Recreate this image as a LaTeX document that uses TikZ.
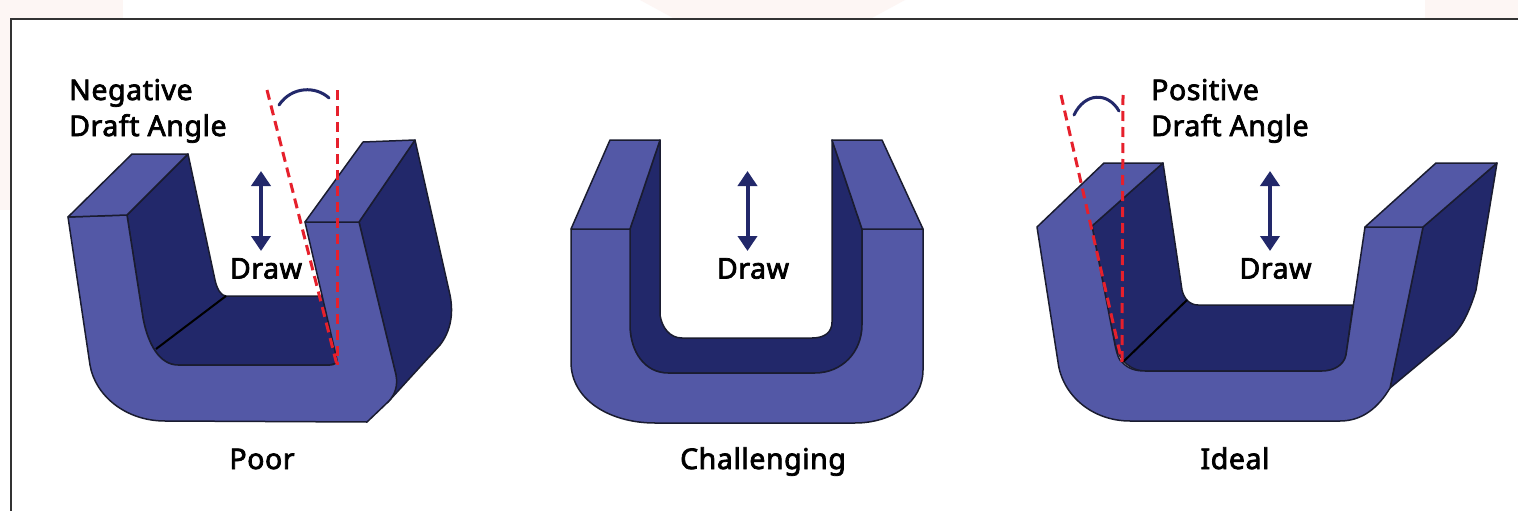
\documentclass[tikz,border=0pt]{standalone}
\usepackage{fontspec}
\setmainfont[FakeBold=2.6,LetterSpace=2]{Noto Sans}
\usepackage{tikz}
\usetikzlibrary{arrows.meta,positioning}
\definecolor{faceblue}{HTML}{5358A6}
\definecolor{darkblue}{HTML}{22286A}
\definecolor{draftred}{HTML}{E6202C}
\definecolor{edgeink}{HTML}{1A1C30}
\definecolor{paleback}{HTML}{FDF6F4}

\begin{document}
\begin{tikzpicture}[
  x=1pt, y=-1pt,
  font=\fontsize{28.5}{36}\selectfont,
  lab/.style={inner sep=0pt, align=left, text=black},
  face/.style={fill=faceblue, draw=edgeink, line width=1.5pt, line join=round},
  wall/.style={fill=darkblue, draw=edgeink, line width=1.5pt, line join=round},
  crease/.style={draw=black, line width=2pt},
  dashline/.style={draw=draftred, line width=3pt, dash pattern=on 10pt off 6pt},
  sweep/.style={draw=darkblue, line width=3pt, line cap=round},
  arr/.style={{Triangle[length=15pt,width=19pt]}-{Triangle[length=15pt,width=19pt]}, draw=darkblue, color=darkblue, line width=4pt}
]
\useasboundingbox (0,0) rectangle (1518,511);
\fill[white] (0,0) rectangle (1518,511);
% faint patches behind the frame
\fill[paleback] (0,0) rectangle (123,19);
\fill[paleback] (0,19) rectangle (10,210);
\fill[paleback] (640,0) -- (905,0) -- (870,19) -- (675,19) -- cycle;
\fill[paleback] (1425,0) rectangle (1518,19);
\draw[line width=2pt, draw=black!80] (10.5,511) -- (10.5,19) -- (1518,19);

% poor
\draw[wall] (127,215) -- (188,154) -- (215,280) .. controls (217,289) and (221,296) .. (226,296)
  -- (325,296) -- (340,362) -- (330,365) -- (178,365) .. controls (160,365) and (148,345) .. (143,318) -- cycle;
\draw[crease] (226,296) -- (156,349);
\draw[wall] (359,222) -- (415,140) -- (450,295) .. controls (454,315) and (450,332) .. (440,345) -- (388,402) -- (396,375) -- cycle;
\draw[face] (68,217) -- (127,215) -- (143,318) .. controls (148,345) and (160,365) .. (178,365) -- (330,365)
  .. controls (334,365) and (337,363) .. (337,360) -- (305,222) -- (359,222) -- (396,375)
  .. controls (398,386) and (395,395) .. (388,402) -- (367,422) -- (165,421) .. controls (125,421) and (95,395) .. (90,365) -- cycle;
\draw[face] (68,217) -- (132,154) -- (188,154) -- (127,215) -- cycle;
\draw[face] (305,222) -- (363,142) -- (415,140) -- (359,222) -- cycle;

% challenging
\draw[wall] (630,229) -- (660,140) -- (660,315) .. controls (662,328) and (670,338) .. (682,338)
  -- (812,338) .. controls (825,338) and (832,332) .. (832,322) -- (832,140) -- (862,229) -- (862,325)
  .. controls (862,352) and (842,373) .. (815,373) -- (668,373) .. controls (645,373) and (630,352) .. (630,325) -- cycle;
\draw[face] (571,229) -- (630,229) -- (630,325) .. controls (630,352) and (645,373) .. (668,373) -- (815,373)
  .. controls (842,373) and (862,352) .. (862,325) -- (862,229) -- (923,229) -- (923,370)
  .. controls (923,402) and (892,423) .. (855,423) -- (655,423) .. controls (610,423) and (571,400) .. (571,362) -- cycle;
\draw[face] (571,229) -- (610,140) -- (660,140) -- (630,229) -- cycle;
\draw[face] (923,229) -- (882,140) -- (832,140) -- (862,229) -- cycle;

% ideal
\draw[wall] (1092,226) -- (1163,163) -- (1182,290) .. controls (1184,299) and (1190,305) .. (1198,305)
  -- (1353,305) -- (1346,355) .. controls (1344,365) and (1334,371) .. (1322,371) -- (1145,371)
  .. controls (1132,371) and (1120,362) .. (1115,345) -- cycle;
\draw[crease] (1187,300) -- (1123,362);
\draw[wall] (1423,227) -- (1497,163) -- (1476,290) .. controls (1470,310) and (1462,328) .. (1450,338) -- (1390,388) -- cycle;
\draw[face] (1037,227) -- (1104,163) -- (1163,163) -- (1092,226) -- (1115,345) .. controls (1117,355) and (1120,362) .. (1122,362)
  .. controls (1128,369) and (1136,371) .. (1145,371) -- (1322,371) .. controls (1334,371) and (1344,365) .. (1346,355)
  -- (1365,227) -- (1423,227) -- (1390,388) .. controls (1378,408) and (1362,421) .. (1340,421) -- (1130,421)
  .. controls (1092,421) and (1062,395) .. (1058,362) -- cycle;
\draw[face] (1365,227) -- (1436,163) -- (1497,163) -- (1423,227) -- cycle;

% draft angles
\coordinate (negtip) at (337,365);
\coordinate (negtilt) at (267,90);
\coordinate (negup) at (337,90);
\coordinate (postip) at (1122,362);
\coordinate (postilt) at (1061,95);
\coordinate (posup) at (1123,95);
\draw[dashline] (negtilt) -- (negtip);
\draw[dashline] (negup) -- (negtip);
\draw[dashline] (postilt) -- (postip);
\draw[dashline] (posup) -- (postip);
\draw[sweep] (279,105) .. controls (292,86) and (316,86) .. (329,98);
\draw[sweep] (1074,115) .. controls (1085,92) and (1108,92) .. (1119,111);

% draw direction
\coordinate (poorup) at (261,171);
\coordinate (poordn) at (261,251);
\coordinate (chalup) at (747.5,171);
\coordinate (chaldn) at (747.5,251);
\coordinate (idealup) at (1270,171);
\coordinate (idealdn) at (1270,251);
\draw[arr] (poorup) -- (poordn);
\draw[arr] (chalup) -- (chaldn);
\draw[arr] (idealup) -- (idealdn);
\node[lab, below=7pt of poordn, xshift=5pt] (poordraw) {Draw};
\node[lab, below=7pt of chaldn, xshift=5.5pt] (chaldraw) {Draw};
\node[lab, below=7pt of idealdn, xshift=5.5pt] (idealdraw) {Draw};

\node[lab, anchor=base west] (negtext) at (69,136) {Negative\\Draft Angle};
\node[lab, anchor=base west] (postext) at (1151,136) {Positive\\Draft Angle};
\node[lab, anchor=base] (poorlab) at (262,469) {Poor};
\node[lab, anchor=base] (challab) at (763,469) {Challenging};
\node[lab, anchor=base] (ideallab) at (1235,469) {Ideal};
\end{tikzpicture}
\end{document}
